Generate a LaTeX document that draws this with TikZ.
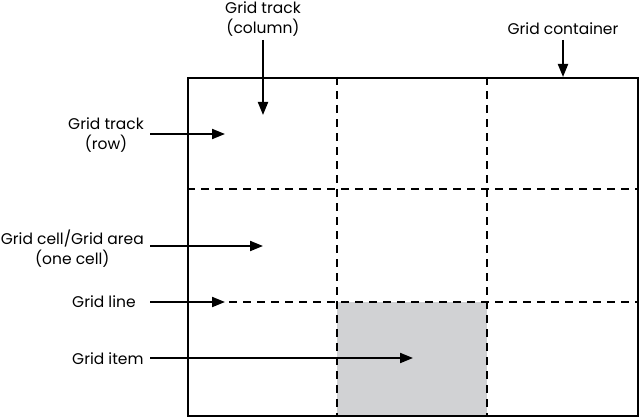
\documentclass[tikz,border=0pt]{standalone}
\usepackage{fontspec}
\setmainfont{Poppins}
\usetikzlibrary{arrows.meta}
\definecolor{cellgray}{HTML}{D1D2D4}
\tikzset{
  lbl/.style={inner sep=0pt, font=\fontsize{15.5}{20}\selectfont, align=center},
  arr/.style={line width=2pt, -{Triangle[length=13pt,width=10pt]}},
  frame/.style={line width=2pt},
  gridline/.style={line width=2pt, dash pattern=on 8pt off 6pt},
}
\begin{document}
\begin{tikzpicture}[x=1pt,y=-1pt]
\useasboundingbox (0,0) rectangle (639,417);
% gray item cell
\fill[cellgray] (337,302) rectangle (487,415);
% dashed grid lines
\draw[gridline] (337,77) -- (337,415);
\draw[gridline] (487,77) -- (487,415);
\draw[gridline] (187,189) -- (637,189);
\draw[gridline] (187,302) -- (637,302);
% container
\node[frame, draw, minimum width=450pt, minimum height=338pt, inner sep=0pt, anchor=north west] (box) at (187,77) {};
% labels
\node[lbl] (col) at (263,19) {Grid track\\(column)};
\node[lbl] (cont) at (563,29) {Grid container};
\node[lbl, anchor=east] (row) at (144,135) {Grid track\\(row)};
\node[lbl, anchor=east] (cell) at (144,249) {Grid cell/Grid area\\(one cell)};
\node[lbl, anchor=west] (line) at (72,302) {Grid line};
\node[lbl, anchor=west] (item) at (72,359) {Grid item};
% arrow targets
\coordinate (colT) at (263,115);
\coordinate (rowT) at (225,134);
\coordinate (cellT) at (263,246);
\coordinate (lineT) at (225,302);
\coordinate (itemT) at (413,358);
% arrows
\draw[arr] (col.south |- 0,40) -- (colT);
\draw[arr] (cont.south |- 0,40) -- (cont.south |- box.north);
\draw[arr] (150,134) -- (rowT);
\draw[arr] (150,246) -- (cellT);
\draw[arr] (150,302) -- (lineT);
\draw[arr] (150,358) -- (itemT);
\end{tikzpicture}
\end{document}
